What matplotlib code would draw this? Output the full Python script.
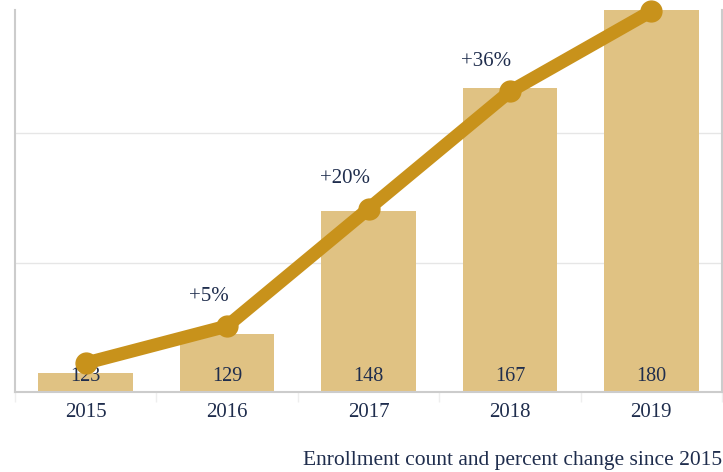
import matplotlib.pyplot as plt
import numpy as np

years = ['2015', '2016', '2017', '2018', '2019']
enrollment = [123, 129, 148, 167, 180]
pct_labels = ['', '+5%', '+20%', '+36%', '']
grid_levels = [140, 160]
caption = 'Enrollment count and percent change since 2015'

bar_color = '#e0c283'
line_color = '#c8921b'
text_color = '#1f2d4d'
grid_color = '#e6e6e6'
spine_color = '#cccccc'

plt.rcParams['font.family'] = ['Liberation Serif', 'DejaVu Serif']

pct = [(v / enrollment[0] - 1) * 100 for v in enrollment]
x = np.arange(len(years))

fig = plt.figure(figsize=(7.23, 4.72), dpi=100)
ax = fig.add_axes([0.0207, 0.1695, 0.978, 0.8093])
ax2 = ax.twinx()

ax.bar(x, enrollment, width=0.67, color=bar_color, zorder=2)
ax.set_xlim(-0.5, len(years) - 0.5)
ax.set_ylim(120, 179)
ax.hlines(grid_levels, -0.5, len(years) - 0.5, color=grid_color,
          linewidth=1, zorder=0)
ax.set_yticks([])
ax.yaxis.set_visible(False)

ax.set_xticks(x)
ax.set_xticklabels(years, fontsize=15, color=text_color)
ax.tick_params(axis='x', length=0, pad=8)
ax.set_xticks(np.arange(len(years) + 1) - 0.5, minor=True)
ax.tick_params(axis='x', which='minor', length=7, color='#eeeeee', width=1)

for s in ['left', 'right', 'bottom']:
    ax.spines[s].set_color(spine_color)
    ax.spines[s].set_linewidth(1.5)
ax.spines['top'].set_visible(False)

for xi, v in zip(x, enrollment):
    ax.text(xi, 120.9, str(v), ha='center', va='bottom', fontsize=14.5,
            color=text_color, zorder=5)

ax2.set_ylim(-3.8, 46.5)
ax2.axis('off')
ax2.plot(x, pct, color=line_color, linewidth=9.5, marker='o', markersize=15,
         solid_capstyle='round', clip_on=False, zorder=3)

for xi, p, lab in zip(x, pct, pct_labels):
    if lab:
        ax2.annotate(lab, (xi, p), xytext=(1, 21.5), textcoords='offset points',
                     ha='right', va='center', fontsize=15, color=text_color)

fig.text(0.999, 0.0148, caption, ha='right', va='baseline', fontsize=15.5,
         color=text_color)

fig.savefig('out.png', dpi=100)
